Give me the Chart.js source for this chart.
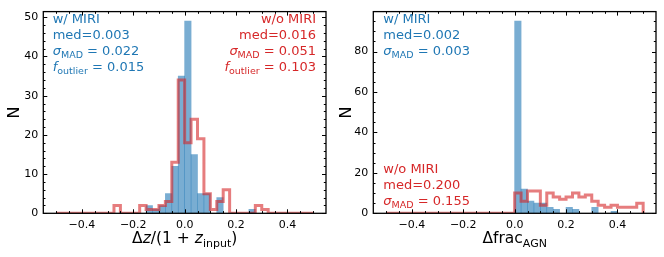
<!DOCTYPE html>
<html><head><meta charset="utf-8">
<script src="https://cdn.jsdelivr.net/npm/chart.js@4.4.1/dist/chart.umd.min.js"></script>
<style>
html,body{margin:0;padding:0;background:#fff;}
#wrap{position:relative;width:664px;height:257px;overflow:hidden;}
.pan{position:absolute;top:0;width:332px;height:257px;}
</style></head><body>
<div id="wrap">
<div class="pan" style="left:0"><canvas id="c1" width="332" height="257"></canvas></div>
<div class="pan" style="left:332px"><canvas id="c2" width="332" height="257"></canvas></div>
</div>
<script>
// ---- bin edges (histogram categories) ----
const binEdges = [-0.5,-0.475,-0.45,-0.425,-0.4,-0.375,-0.35,-0.325,-0.3,-0.275,
  -0.25,-0.225,-0.2,-0.175,-0.15,-0.125,-0.1,-0.075,-0.05,-0.025,
  0,0.025,0.05,0.075,0.1,0.125,0.15,0.175,0.2,0.225,
  0.25,0.275,0.3,0.325,0.35,0.375,0.4,0.425,0.45,0.475,0.5];

// ---- left panel: dz/(1+z_input) counts per bin ----
const dzWithMIRI = [0,0,0,0,0,0,0,0,0,0,
  0,0,0,0,2,1,2,5,12,35,
  49,15,5,5,0,4,0,0,0,0,
  1,0,0,0,0,0,0,0,0,0];
const dzWithoutMIRI = [0,0,0,0,0,0,0,0,0,2,
  0,0,0,2,1,1,2,3,13,34,
  18,24,19,5,1,3,6,0,0,0,
  0,2,1,0,0,0,0,0,0,0];

// ---- right panel: dfrac_AGN counts per bin ----
const fracWithMIRI = [0,0,0,0,0,0,0,0,0,0,
  0,0,0,0,0,0,0,0,0,0,
  95,12,6,5,5,3,2,0,3,2,
  0,0,3,0,0,1,0,0,0,0];
const fracWithoutMIRI = [0,0,0,0,0,0,0,0,0,0,
  0,0,0,0,0,0,0,0,0,0,
  10,6,11,11,4,10,8,7,8,10,
  8,9,6,4,3,4,3,3,3,5];

// ---- ticks ----
const xMajorTicks = [-0.4,-0.2,0,0.2,0.4];
const xMinorTicks = [-0.5,-0.45,-0.35,-0.3,-0.25,-0.15,-0.1,-0.05,0.05,0.1,0.15,0.25,0.3,0.35,0.45,0.5];
const yMajorTicksLeft = [0,10,20,30,40,50];
const yMinorTicksLeft = [2,4,6,8,12,14,16,18,22,24,26,28,32,34,36,38,42,44,46,48];
const yMajorTicksRight = [0,20,40,60,80];
const yMinorTicksRight = [5,10,15,25,30,35,45,50,55,65,70,75,85,90,95];

const BLUE = '#1f77b4', RED = '#d62728';
const FAM = '"DejaVu Sans", sans-serif';

function barData(vals){ return vals.map((v,i)=>({x:(binEdges[i]+binEdges[i+1])/2, y:v})); }
function stepData(vals){
  const pts=[{x:binEdges[0],y:0}];
  vals.forEach((v,i)=>pts.push({x:binEdges[i],y:v}));
  pts.push({x:binEdges[binEdges.length-1],y:vals[vals.length-1]});
  pts.push({x:binEdges[binEdges.length-1],y:0});
  return pts;
}
function fmtX(v){ if(Math.abs(v)<1e-9) return '0.0'; return (v<0?'\u2212':'')+Math.abs(v).toFixed(1); }

function drawRich(ctx, parts, x, y, align){
  let w=0;
  parts.forEach(p=>{ctx.font=p.f; p.w=ctx.measureText(p.t).width; w+=p.w;});
  let cx = align==='right'? x-w : align==='center'? x-w/2 : x;
  parts.forEach(p=>{ctx.font=p.f; ctx.fillText(p.t, cx, y+(p.dy||0)); cx+=p.w;});
}
const F = (s, st) => (st?st+' ':'') + s + 'px ' + FAM;

function decoPlugin(cfg){
  return {
    id:'deco',
    afterDraw(chart){
      const ctx=chart.ctx, a=chart.chartArea, xs=chart.scales.x, ys=chart.scales.y;
      ctx.save();
      ctx.strokeStyle='#000'; ctx.lineWidth=1;
      const tick=(vals, len, isX)=>{
        vals.forEach(v=>{
          ctx.beginPath();
          if(isX){
            const p=Math.round(xs.getPixelForValue(v))+0.5;
            ctx.moveTo(p,a.bottom); ctx.lineTo(p,a.bottom-len);
            ctx.moveTo(p,a.top); ctx.lineTo(p,a.top+len);
          } else {
            const p=Math.round(ys.getPixelForValue(v))+0.5;
            ctx.moveTo(a.left,p); ctx.lineTo(a.left+len,p);
            ctx.moveTo(a.right,p); ctx.lineTo(a.right-len,p);
          }
          ctx.stroke();
        });
      };
      tick(xMajorTicks,4,true); tick(xMinorTicks,2.2,true);
      tick(cfg.yMajor,4,false); tick(cfg.yMinor,2.2,false);
      ctx.lineWidth=1.3;
      ctx.strokeRect(a.left,a.top,a.right-a.left,a.bottom-a.top);
      ctx.fillStyle='#000'; ctx.textBaseline='alphabetic';
      ctx.save(); ctx.translate(18.5,(a.top+a.bottom)/2);
      ctx.rotate(-Math.PI/2); ctx.font=F(16); ctx.textAlign='center';
      ctx.fillText('N',0,0); ctx.restore();
      ctx.textAlign='left';
      drawRich(ctx, cfg.xTitle, (a.left+a.right)/2, 243, 'center');
      cfg.notes.forEach(n=>{
        ctx.fillStyle=n.color;
        n.lines.forEach((ln,i)=>drawRich(ctx, ln, n.x(a), n.y0+i*16, n.align));
      });
      ctx.restore();
    }
  };
}

const T = 13, S = 9.5, D = 3;
const TT = 15.5, TS = 11, TD = 3.5;
const sigmaLine = v => [{t:'\u03c3',f:F(T,'italic')},{t:'MAD',f:F(S),dy:D},{t:' = '+v,f:F(T)}];
const foutLine = v => [{t:'f',f:F(T,'italic')},{t:'outlier',f:F(S),dy:D},{t:' = '+v,f:F(T)}];
const plain = s => [{t:s,f:F(T)}];

function makeChart(id, blue, red, yMax, yMaj, yMin, yW, padR, deco){
  return new Chart(document.getElementById(id), {
    type:'bar',
    data:{datasets:[
      {type:'line', data:stepData(red), stepped:'before', borderColor:'rgba(214,39,40,0.6)', borderWidth:3,
       borderJoinStyle:'miter', pointRadius:0, fill:false, tension:0, clip:0, order:0},
      {type:'bar', data:barData(blue), backgroundColor:'rgba(31,119,180,0.6)', borderWidth:0,
       barPercentage:1, categoryPercentage:1, order:1}
    ]},
    options:{
      responsive:false, animation:false, devicePixelRatio:1,
      layout:{padding:{top:6,right:padR,left:0,bottom:0}},
      plugins:{legend:{display:false}, tooltip:{enabled:false}},
      scales:{
        x:{type:'linear', min:-0.55, max:0.55, offset:false,
           grid:{display:false, drawTicks:false, offset:false}, border:{display:false},
           ticks:{color:'#000', font:{size:11, family:FAM}, padding:5, autoSkip:false, maxRotation:0, callback:fmtX},
           afterBuildTicks:s=>{s.ticks=xMajorTicks.map(v=>({value:v}));},
           afterFit:s=>{s.height=43.7;}},
        y:{type:'linear', min:0, max:yMax,
           grid:{display:false, drawTicks:false}, border:{display:false},
           ticks:{color:'#000', font:{size:11, family:FAM}, padding:5, autoSkip:false, callback:v=>String(v)},
           afterBuildTicks:s=>{s.ticks=yMaj.map(v=>({value:v}));},
           afterFit:s=>{s.width=yW;}}
      }
    },
    plugins:[decoPlugin(deco)]
  });
}

makeChart('c1', dzWithMIRI, dzWithoutMIRI, 51.45, yMajorTicksLeft, yMinorTicksLeft, 43.3, 6, {
  yMajor:yMajorTicksLeft, yMinor:yMinorTicksLeft,
  xTitle:[{t:'\u0394',f:F(TT)},{t:'z',f:F(TT,'italic')},{t:'/(1 + ',f:F(TT)},{t:'z',f:F(TT,'italic')},{t:'input',f:F(TS),dy:TD},{t:')',f:F(TT)}],
  notes:[
    {color:BLUE, align:'left', x:a=>a.left+9.4, y0:23, lines:[plain('w/ MIRI'), plain('med=0.003'), sigmaLine('0.022'), foutLine('0.015')]},
    {color:RED, align:'right', x:a=>a.right-10, y0:23, lines:[plain('w/o MIRI'), plain('med=0.016'), sigmaLine('0.051'), foutLine('0.103')]}
  ]
});
makeChart('c2', fracWithMIRI, fracWithoutMIRI, 99.75, yMajorTicksRight, yMinorTicksRight, 41.3, 8, {
  yMajor:yMajorTicksRight, yMinor:yMinorTicksRight,
  xTitle:[{t:'\u0394frac',f:F(TT)},{t:'AGN',f:F(TS),dy:TD}],
  notes:[
    {color:BLUE, align:'left', x:a=>a.left+10, y0:23, lines:[plain('w/ MIRI'), plain('med=0.002'), sigmaLine('0.003')]},
    {color:RED, align:'left', x:a=>a.left+10, y0:172.5, lines:[plain('w/o MIRI'), plain('med=0.200'), sigmaLine('0.155')]}
  ]
});
</script>
</body></html>
